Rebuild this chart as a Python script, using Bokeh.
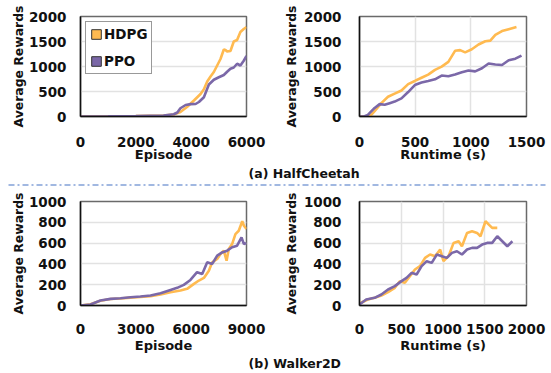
from bokeh.plotting import figure
from bokeh.layouts import column, row
from bokeh.models import Range1d, FixedTicker, Legend, LegendItem
from bokeh.core.properties import value
from bokeh.embed import file_html
from bokeh.resources import INLINE

# ---------------- data ----------------
# HalfCheetah, reward vs episode
hc_ep_hdpg_x = [0, 1000, 2000, 3000, 3370, 3610, 3850, 4100, 4340, 4460, 4580, 4700, 4820, 4940, 5060, 5180, 5240, 5300, 5420, 5540, 5660, 5780, 5900, 6000]
hc_ep_hdpg_y = [0, 3, 8, 18, 40, 90, 190, 320, 450, 545, 700, 800, 890, 1020, 1150, 1340, 1330, 1300, 1310, 1500, 1530, 1690, 1750, 1790]
hc_ep_ppo_x = [0, 1000, 2000, 3000, 3370, 3500, 3610, 3800, 3980, 4160, 4280, 4460, 4640, 4820, 5000, 5180, 5300, 5420, 5540, 5660, 5780, 5900, 6000]
hc_ep_ppo_y = [0, 3, 8, 20, 45, 80, 165, 230, 248, 250, 290, 385, 640, 735, 785, 830, 895, 955, 980, 1055, 1020, 1115, 1210]

# HalfCheetah, reward vs runtime (s)
hc_rt_hdpg_x = [0, 60, 105, 136, 196, 256, 316, 377, 437, 497, 557, 617, 678, 738, 798, 858, 904, 949, 1009, 1069, 1130, 1175, 1220, 1280, 1340, 1410]
hc_rt_hdpg_y = [0, 5, 30, 108, 267, 394, 457, 521, 648, 711, 775, 838, 933, 997, 1092, 1314, 1327, 1283, 1346, 1441, 1505, 1518, 1632, 1708, 1746, 1790]
hc_rt_ppo_x = [0, 40, 75, 136, 181, 226, 271, 316, 377, 437, 497, 557, 617, 678, 738, 798, 858, 919, 979, 1039, 1100, 1160, 1220, 1280, 1340, 1400, 1455]
hc_rt_ppo_y = [0, 0, 32, 171, 248, 235, 267, 298, 362, 489, 629, 680, 711, 743, 819, 806, 838, 883, 921, 902, 965, 1060, 1041, 1029, 1124, 1156, 1219]

# Walker2D, reward vs episode
wk_ep_hdpg_x = [0, 540, 1080, 1630, 2170, 2710, 3250, 3800, 4340, 4880, 5420, 5780, 6150, 6420, 6690, 6960, 7140, 7410, 7590, 7770, 7920, 8040, 8220, 8400, 8580, 8770, 8860, 9000]
wk_ep_hdpg_y = [0, 12, 45, 62, 68, 76, 82, 90, 105, 128, 144, 160, 208, 240, 265, 335, 415, 447, 495, 527, 431, 543, 591, 687, 719, 810, 767, 735]
wk_ep_ppo_x = [0, 540, 1080, 1630, 2170, 2710, 3250, 3800, 4340, 4880, 5240, 5600, 5960, 6320, 6600, 6870, 7140, 7410, 7680, 7950, 8220, 8490, 8730, 8860, 9000]
wk_ep_ppo_y = [0, 10, 48, 64, 70, 80, 86, 96, 118, 150, 170, 198, 246, 320, 303, 415, 400, 480, 510, 527, 560, 575, 655, 590, 600]

# Walker2D, reward vs runtime (s)
wk_rt_hdpg_x = [0, 100, 181, 262, 342, 423, 483, 543, 604, 664, 724, 785, 845, 905, 966, 1006, 1066, 1127, 1187, 1227, 1288, 1348, 1408, 1449, 1509, 1549, 1589, 1650]
wk_rt_hdpg_y = [19, 58, 74, 96, 128, 170, 234, 218, 282, 346, 378, 458, 490, 474, 538, 426, 474, 602, 618, 570, 698, 714, 698, 666, 810, 778, 746, 746]
wk_rt_ppo_x = [0, 80, 181, 262, 342, 423, 503, 563, 624, 684, 744, 805, 865, 926, 986, 1046, 1107, 1167, 1227, 1288, 1348, 1408, 1469, 1529, 1589, 1650, 1710, 1770, 1831]
wk_rt_ppo_y = [10, 58, 74, 106, 154, 186, 234, 266, 314, 298, 378, 426, 410, 490, 474, 458, 506, 522, 490, 538, 554, 554, 586, 602, 602, 666, 618, 570, 618]

series_names = ["HDPG", "PPO"]
ticks_hc_ep = [0, 2000, 4000, 6000]
ticks_hc_rt = [0, 500, 1000, 1500]
ticks_wk_ep = [0, 3000, 6000, 9000]
ticks_wk_rt = [0, 500, 1000, 1500, 2000]
ticks_hc_y = [0, 500, 1000, 1500, 2000]
ticks_wk_y = [0, 200, 400, 600, 800, 1000]
captions = ["(a) HalfCheetah", "(b) Walker2D"]
ylabel = "Average Rewards"

ORANGE = "#FFBA50"
PURPLE = "#7B68A8"
FONT = "DejaVu Sans"


def panel(width, height, mb_left, mb_right, mb_top, mb_bottom,
          xticks, yticks, xlabel, hd, pp, xgrid, ystand, xstand, legend=False):
    p = figure(width=width, height=height, output_backend="svg", toolbar_location=None,
               x_range=Range1d(xticks[0], xticks[-1]), y_range=Range1d(yticks[0], yticks[-1]),
               min_border_left=mb_left, min_border_right=mb_right,
               min_border_top=mb_top, min_border_bottom=mb_bottom)
    p.outline_line_color = "#6a6a6a"
    p.outline_line_width = 1.5
    p.xgrid.visible = xgrid
    p.xgrid.grid_line_color = "#e2e2e2"
    p.ygrid.grid_line_color = "#e2e2e2"
    p.xgrid.grid_line_width = 1.5
    p.ygrid.grid_line_width = 1.5
    p.xaxis.ticker = FixedTicker(ticks=xticks)
    p.yaxis.ticker = FixedTicker(ticks=yticks)
    p.xaxis.axis_label = xlabel
    p.yaxis.axis_label = ylabel
    for ax in (p.xaxis[0], p.yaxis[0]):
        ax.major_tick_line_color = None
        ax.minor_tick_line_color = None
        ax.axis_line_color = "#111111"
        ax.axis_line_width = 1.5
        ax.major_label_text_font = FONT
        ax.major_label_text_font_style = "bold"
        ax.major_label_text_font_size = "13.5px"
        ax.major_label_text_color = "#111111"
        ax.axis_label_text_font = FONT
        ax.axis_label_text_font_style = "bold"
        ax.axis_label_text_font_size = "13px"
        ax.axis_label_text_color = "#111111"
    p.yaxis.axis_label_text_font_size = "12.4px"
    p.xaxis.major_label_standoff = xstand[0]
    p.xaxis.axis_label_standoff = xstand[1]
    p.yaxis.major_label_standoff = ystand[0]
    p.yaxis.axis_label_standoff = ystand[1]
    p.line(hd[0], hd[1], line_color=ORANGE, line_width=2.6)
    p.line(pp[0], pp[1], line_color=PURPLE, line_width=2.6)
    if legend:
        # degenerate (zero-size) quads at each series' first point: only their legend swatch shows
        q1 = p.quad(left=hd[0][:1], right=hd[0][:1], top=hd[1][:1], bottom=hd[1][:1],
                    fill_color=ORANGE, line_color="#333333", line_width=1)
        q2 = p.quad(left=pp[0][:1], right=pp[0][:1], top=pp[1][:1], bottom=pp[1][:1],
                    fill_color=PURPLE, line_color="#333333", line_width=1)
        lg = Legend(items=[LegendItem(label=series_names[0], renderers=[q1]),
                           LegendItem(label=series_names[1], renderers=[q2])],
                    location="top_left", margin=5, padding=4, spacing=11,
                    glyph_width=12, glyph_height=12, label_height=12, label_standoff=2,
                    label_text_font=FONT, label_text_font_style="bold",
                    label_text_font_size="13.5px", label_text_color="#111111",
                    label_text_baseline="middle",
                    border_line_color="#333333", border_line_width=1.2,
                    background_fill_alpha=1.0)
        p.add_layout(lg, "center")
    return p


def textfig(width, height, items, sep=None):
    p = figure(width=width, height=height, output_backend="svg", toolbar_location=None,
               x_range=Range1d(0, width), y_range=Range1d(0, height),
               min_border=0, min_border_left=0, min_border_right=0,
               min_border_top=0, min_border_bottom=0)
    p.axis.visible = False
    p.grid.visible = False
    p.outline_line_color = None
    for (tx, ty, t) in items:
        p.text(x=[tx], y=[ty], text=[t], text_font=value(FONT), text_font_style="bold",
               text_font_size="12.5px", text_align="left", text_baseline="middle",
               text_color="#111111")
    if sep is not None:
        x0, x1, sy = sep
        p.segment(x0=[x0], y0=[sy], x1=[x1], y1=[sy], line_color="#4472C4",
                  line_width=1.2, line_dash="6 3 2 3")
    return p


p1 = panel(275, 164, 80, 29, 16, 42, ticks_hc_ep, ticks_hc_y, "Episode",
           (hc_ep_hdpg_x, hc_ep_hdpg_y), (hc_ep_ppo_x, hc_ep_ppo_y), False, (8, 0), (14, -3), legend=True)
p2 = panel(276, 164, 84, 25, 16, 42, ticks_hc_rt, ticks_hc_y, "Runtime (s)",
           (hc_rt_hdpg_x, hc_rt_hdpg_y), (hc_rt_ppo_x, hc_rt_ppo_y), True, (12, 2), (14, -3))
p3 = panel(275, 164, 80, 29, 10, 50, ticks_wk_ep, ticks_wk_y, "Episode",
           (wk_ep_hdpg_x, wk_ep_hdpg_y), (wk_ep_ppo_x, wk_ep_ppo_y), False, (8, 0), (12, 1))
p4 = panel(276, 164, 84, 25, 10, 50, ticks_wk_rt, ticks_wk_y, "Runtime (s)",
           (wk_rt_hdpg_x, wk_rt_hdpg_y), (wk_rt_ppo_x, wk_rt_ppo_y), True, (12, 2), (12, 1))

cap_a = textfig(551, 27, [(248, 18.5, captions[0])], sep=(8, 545, 6.5))
cap_b = textfig(551, 18, [(248, 10, captions[1])])

layout = column(row(p1, p2), cap_a, row(p3, p4), cap_b)
open("out.html", "w").write(file_html(layout, INLINE))
